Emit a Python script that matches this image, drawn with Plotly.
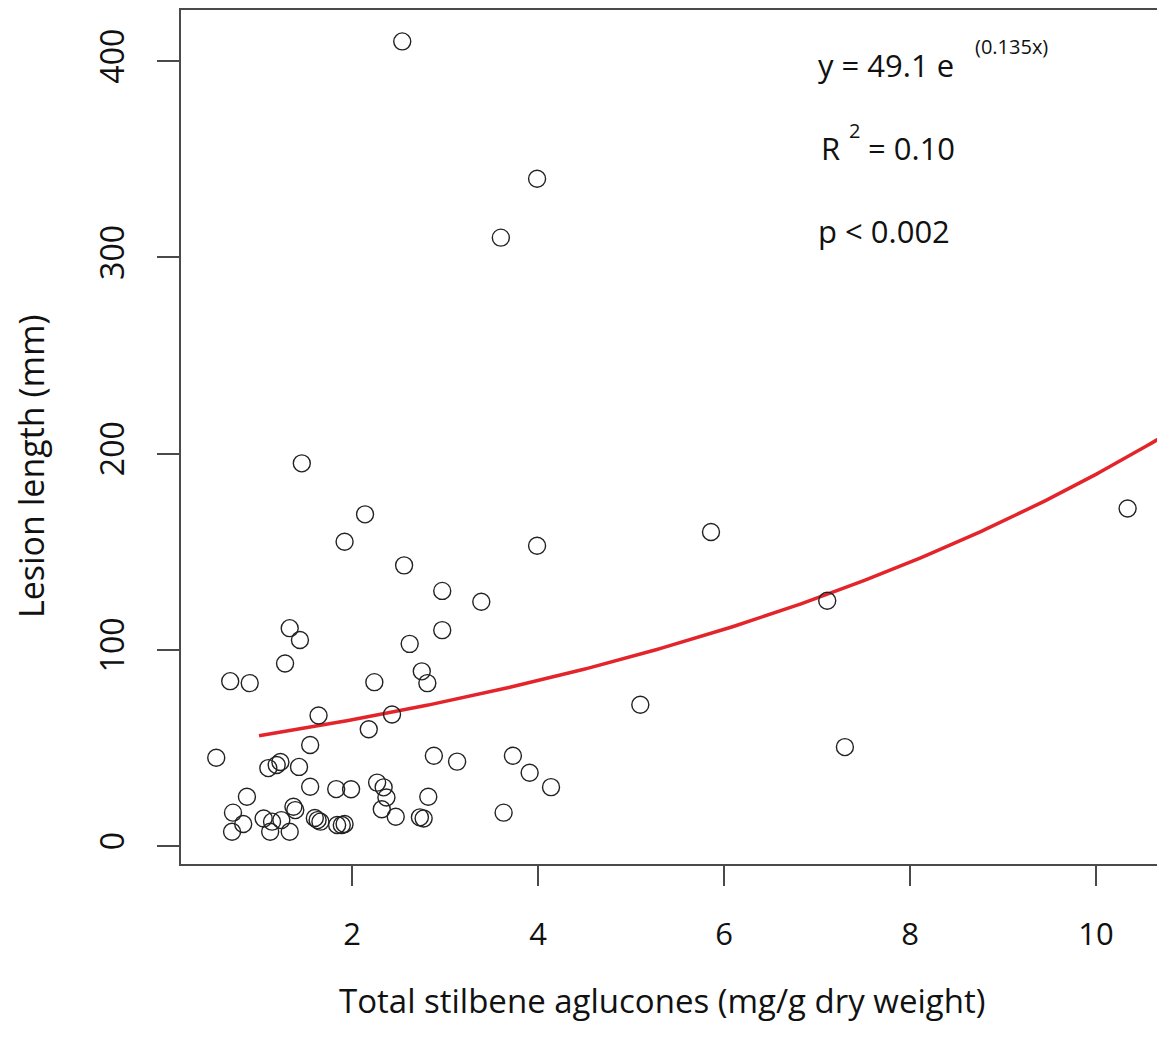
import numpy as np
import plotly.graph_objects as go

# Data
stilbene = [2.54, 3.99, 3.60, 1.46, 2.14, 1.92, 3.99, 5.86, 10.34, 7.11,
            2.56, 2.97, 3.39, 2.97, 1.33, 1.44, 2.62, 1.28, 0.69, 0.90,
            2.24, 2.75, 2.81, 5.10, 2.43, 1.64, 2.18, 0.54, 1.55, 7.30,
            1.10, 1.19, 1.23, 1.43, 2.88, 3.13, 3.73, 3.91, 4.14, 3.63,
            1.55, 1.83, 1.99, 2.27, 2.34, 2.37, 2.32, 2.47, 2.82, 2.73,
            2.77, 0.87, 0.72, 0.83, 0.71, 1.05, 1.14, 1.12, 1.33, 1.24,
            1.37, 1.39, 1.60, 1.63, 1.66, 1.84, 1.89, 1.92]
lesion = [410, 340, 310, 195, 169, 155, 153, 160, 172, 125,
          143, 130, 124.5, 110, 111, 105, 103, 93, 84, 83,
          83.5, 89, 83, 72, 67, 66.5, 59.5, 45, 51.5, 50.4,
          39.7, 41.3, 42.8, 40.3, 46, 43, 46, 37.3, 30, 17,
          30.2, 29, 28.9, 32.3, 29.9, 24.7, 18.7, 14.9, 25.1, 14.6,
          14, 25.1, 17, 11.2, 7.3, 14, 12.4, 7.3, 7.3, 13.2,
          20, 18.3, 14.3, 13.2, 12.4, 10.7, 10.7, 11.2]

# Fitted model (from the equation shown in the chart)
fit_a = 49.1
fit_b = 0.135
fit_x = np.linspace(1.0, 10.9, 200)
fit_y = fit_a * np.exp(fit_b * fit_x)

x_ticks = [2, 4, 6, 8, 10]
y_ticks = [0, 100, 200, 300, 400]

FONT = "Open Sans, Noto Sans, sans-serif"
W, H = 1157, 1039
ML, MR, MT, MB = 181, 0, 10, 175
pw, ph = W - ML - MR, H - MT - MB


def px(x):
    return (x - ML) / pw


def py(y):
    return (H - MB - y) / ph


fig = go.Figure()
fig.add_trace(go.Scatter(
    x=fit_x, y=fit_y, mode="lines",
    line=dict(color="#e3242b", width=3.5),
    hoverinfo="skip", showlegend=False))
fig.add_trace(go.Scatter(
    x=stilbene, y=lesion, mode="markers",
    marker=dict(symbol="circle-open", size=17, color="#222222",
                line=dict(width=1.4, color="#222222")),
    showlegend=False))

ann = [
    dict(text="y = 49.1 e", x=px(816), y=py(65), xanchor="left", yanchor="middle", size=31),
    dict(text="(0.135x)", x=px(973), y=py(46), xanchor="left", yanchor="middle", size=20),
    dict(text="R", x=px(819), y=py(148), xanchor="left", yanchor="middle", size=31),
    dict(text="2", x=px(847), y=py(130), xanchor="left", yanchor="middle", size=20),
    dict(text="= 0.10", x=px(866), y=py(148), xanchor="left", yanchor="middle", size=31),
    dict(text="p < 0.002", x=px(816), y=py(231), xanchor="left", yanchor="middle", size=31),
]
annotations = []
for a in ann:
    annotations.append(dict(
        text=a["text"], x=a["x"], y=a["y"], xref="paper", yref="paper",
        xanchor=a["xanchor"], yanchor=a["yanchor"], showarrow=False,
        font=dict(family=FONT, size=a["size"], color="#111111")))

annotations.append(dict(
    text="Total stilbene aglucones (mg/g dry weight)", x=px(662), y=py(1000),
    xref="paper", yref="paper", xanchor="center", yanchor="middle", showarrow=False,
    font=dict(family=FONT, size=33, color="#111111")))
annotations.append(dict(
    text="Lesion length (mm)", x=px(31), y=py(466), textangle=-90,
    xref="paper", yref="paper", xanchor="center", yanchor="middle", showarrow=False,
    font=dict(family=FONT, size=34, color="#111111")))

fig.update_layout(
    width=W, height=H,
    margin=dict(l=ML, r=MR, t=MT, b=MB, pad=0),
    plot_bgcolor="white", paper_bgcolor="white",
    annotations=annotations,
    xaxis=dict(range=[0.161, 10.656], tickvals=x_ticks, ticktext=[str(v) for v in x_ticks],
               showgrid=False, zeroline=False, showline=True, mirror=True,
               linecolor="#4a4a4a", linewidth=2,
               ticks="outside", ticklen=20, tickwidth=1.5, tickcolor="#4a4a4a",
               ticklabelstandoff=22,
               tickfont=dict(family=FONT, size=31, color="#111111")),
    yaxis=dict(range=[-9.17, 426.0], tickvals=y_ticks, ticktext=[str(v) for v in y_ticks],
               showgrid=False, zeroline=False, showline=True, mirror=False,
               linecolor="#4a4a4a", linewidth=2,
               ticks="outside", ticklen=22, tickwidth=1.5, tickcolor="#4a4a4a",
               tickangle=-90, ticklabelstandoff=20,
               tickfont=dict(family=FONT, size=32, color="#111111")),
)

fig.write_html("out.html")
